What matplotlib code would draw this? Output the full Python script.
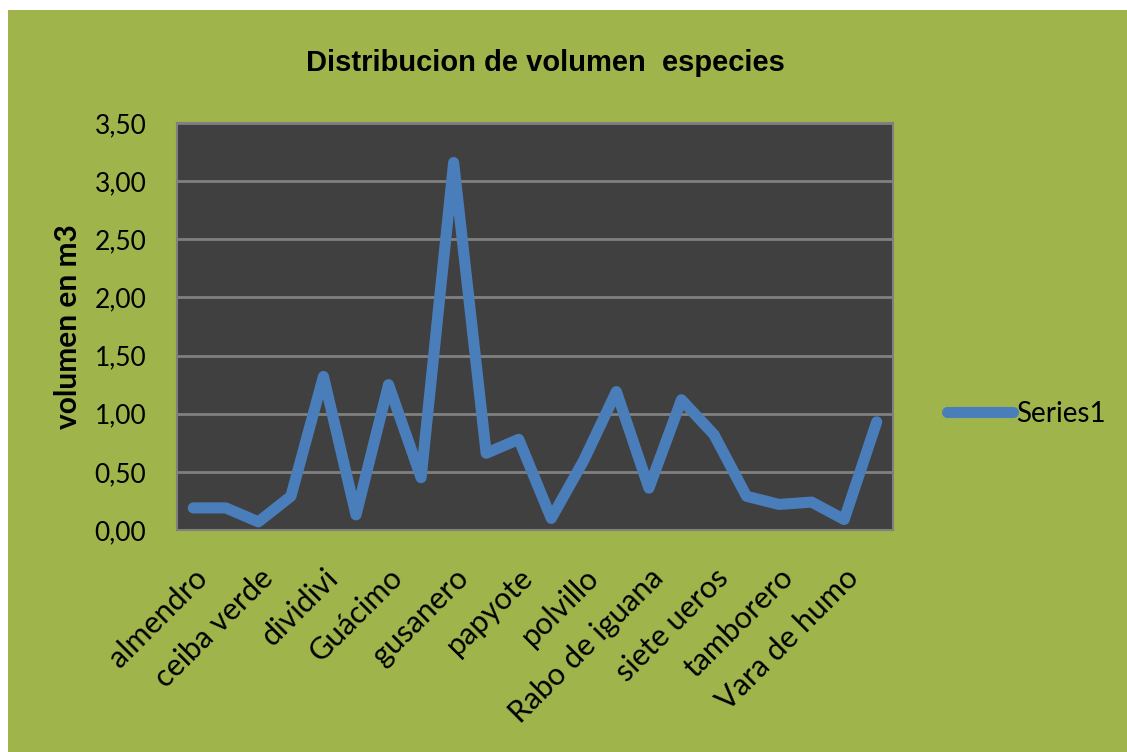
import matplotlib
matplotlib.use("Agg")
import matplotlib.pyplot as plt
import matplotlib.transforms as mtransforms
import numpy as np

# especies (solo las etiquetas visibles en el eje; Excel salta una de cada dos)
etiquetas = ["almendro", "ceiba verde", "dividivi", "Guácimo", "gusanero",
             "papyote", "polvillo", "Rabo de iguana", "siete ueros",
             "tamborero", "Vara de humo"]

# volumen en m3 por especie (22 especies)
volumen = [0.19, 0.19, 0.07, 0.29, 1.32, 0.13, 1.25, 0.45, 3.16, 0.66, 0.78,
           0.10, 0.60, 1.19, 0.36, 1.12, 0.82, 0.29, 0.22, 0.24, 0.09, 0.93]

yticks = [0.0, 0.5, 1.0, 1.5, 2.0, 2.5, 3.0, 3.5]

verde = "#A0B44C"
gris_oscuro = "#404040"
azul = "#4A7EBB"

plt.rcParams['font.family'] = ['Lato', 'DejaVu Sans']

fig = plt.figure(figsize=(11.27, 7.52), dpi=100)
fig.patch.set_facecolor("white")
# fondo verde del area del grafico
fig.patches.append(plt.Rectangle((8 / 1127, 0), 1, 1 - 10 / 752,
                                 transform=fig.transFigure, facecolor=verde,
                                 edgecolor="none", zorder=-5))

ax = fig.add_axes([177 / 1127, 1 - 530 / 752, 716 / 1127, 407 / 752])
ax.set_facecolor(gris_oscuro)

x = np.arange(len(volumen))
ax.plot(x, volumen, color=azul, lw=8, solid_capstyle="round",
        solid_joinstyle="round", label="Series1", zorder=3)

ax.set_xlim(-0.5, len(volumen) - 0.5)
ax.set_ylim(0, 3.5)
ax.set_yticks(yticks)
ax.set_yticklabels([f"{v:.2f}".replace(".", ",") for v in yticks])
ax.grid(axis="y", color="#808080", lw=2)
ax.set_axisbelow(True)

ax.set_xticks(x[::2])
ax.set_xticklabels(etiquetas, rotation=45, ha="right", rotation_mode="anchor")
# pequeño corrimiento a la izquierda de las etiquetas
desplaza = mtransforms.ScaledTranslation(-7 / 100, 0, fig.dpi_scale_trans)
for lbl in ax.get_xticklabels():
    lbl.set_transform(lbl.get_transform() + desplaza)

ax.tick_params(axis="y", length=0, pad=22, labelsize=19)
ax.tick_params(axis="x", length=0, pad=24, labelsize=22)

for s in ax.spines.values():
    s.set_color("#808080")
    s.set_linewidth(1.5)

ax.set_ylabel("volumen en m3", fontsize=21.5, fontweight="bold", labelpad=9)

fig.text(545 / 1127, 1 - 63 / 752, "Distribucion de volumen  especies",
         ha="center", va="center", fontsize=21, fontweight="bold",
         family=["Liberation Sans", "DejaVu Sans"])

leg = ax.legend(loc="center left", bbox_to_anchor=(1.04, 0.285),
                frameon=False, fontsize=20, handlelength=2.4,
                handletextpad=0.1)

fig.savefig("out.png", dpi=100, facecolor=fig.get_facecolor())
